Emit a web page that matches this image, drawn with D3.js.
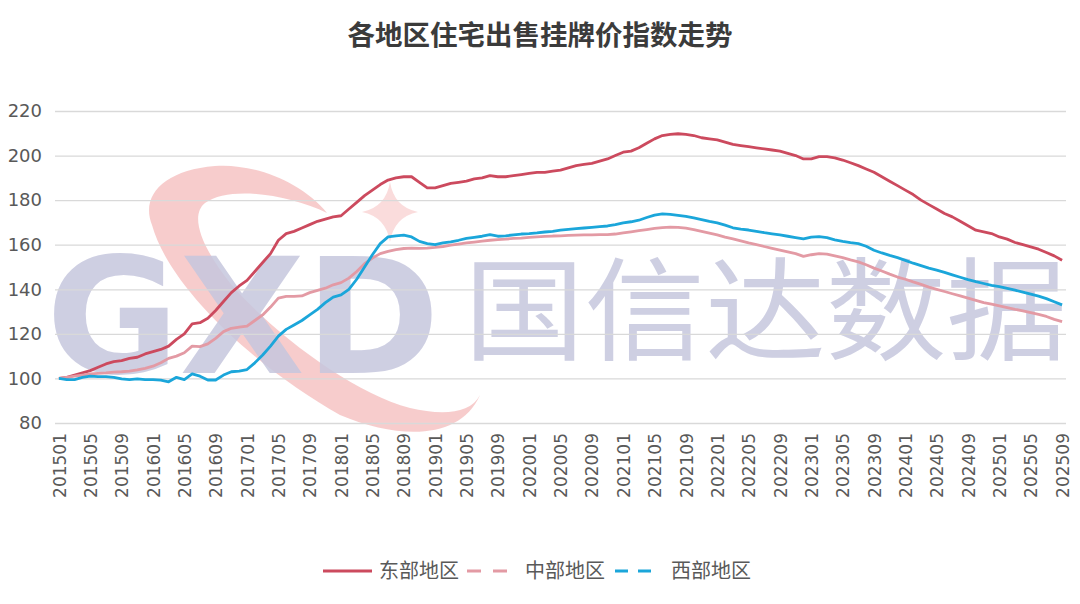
<!DOCTYPE html>
<html>
<head>
<meta charset="utf-8">
<script src="https://cdn.jsdelivr.net/npm/d3@7/dist/d3.min.js"></script>
<style>
  body { margin: 0; background: #fff; }
</style>
</head>
<body>
<script>
// months 201501 .. 202509
const months = [];
for (let y = 2015; y <= 2025; y++) {
    for (let m = 1; m <= 12; m++) {
        if (y === 2025 && m > 9) break;
        months.push(y + (m < 10 ? "0" + m : "" + m));
    }
}

const tickMonths = months.filter((d, i) => i % 4 === 0);
const yTicks = [80, 100, 120, 140, 160, 180, 200, 220];

const seriesNames = ["东部地区", "中部地区", "西部地区"];

const east = [
    100.0, 100.5, 101.5, 102.5, 103.5, 105.0, 106.5, 107.5, 108.0, 109.0, 109.5, 111.0,
    112.0, 113.0, 114.5, 117.5, 120.0, 124.5, 125.0, 127.0, 130.5, 134.5, 138.5, 141.5,
    144.0, 148.0, 152.0, 156.0, 162.0, 165.0, 166.0, 167.5, 169.0, 170.5, 171.5, 172.5,
    173.0, 176.0, 179.0, 182.0, 184.5, 187.0, 189.0, 190.0, 190.5, 190.5, 188.0, 185.5,
    185.5, 186.5, 187.5, 188.0, 188.5, 189.5, 190.0, 191.0, 190.5, 190.5, 191.0, 191.5,
    192.0, 192.5, 192.5, 193.0, 193.5, 194.5, 195.5, 196.0, 196.5, 197.5, 198.5, 200.0,
    201.5, 202.0, 203.5, 205.5, 207.5, 209.0, 209.5, 209.8, 209.5, 209.0, 208.0, 207.5,
    207.0, 206.0, 205.0, 204.5, 204.0, 203.5, 203.0, 202.5, 202.0, 201.0, 200.0, 198.5,
    198.5, 199.5, 199.5, 199.0, 198.0, 196.8, 195.5, 194.0, 192.5, 190.5, 188.5, 186.5,
    184.5, 182.5, 180.0, 178.0, 176.0, 174.0, 172.5, 170.5, 168.5, 166.5, 165.8, 165.0,
    163.5, 162.5, 161.0, 160.0, 159.0, 158.0, 156.5, 155.0, 153.0
];

const central = [
    100.0, 100.5, 101.0, 101.5, 102.0, 102.3, 102.5, 102.8, 103.0, 103.3, 103.8, 104.5,
    105.5, 107.0, 109.0, 110.0, 111.5, 114.5, 114.3, 115.5, 118.0, 121.0, 122.5, 123.0,
    123.5, 126.0, 128.5, 132.0, 136.0, 136.8, 136.8, 137.0, 138.5, 139.5, 140.5, 142.0,
    143.0, 145.0, 148.0, 151.5, 154.0, 156.0, 157.0, 157.8, 158.3, 158.5, 158.4, 158.5,
    158.8, 159.2, 159.8, 160.3, 160.8, 161.2, 161.6, 162.0, 162.3, 162.5, 162.8, 163.0,
    163.3, 163.5, 163.7, 163.9, 164.0, 164.2, 164.3, 164.4, 164.4, 164.5, 164.5, 164.8,
    165.3, 165.8, 166.3, 166.8, 167.3, 167.7, 167.9, 167.8, 167.4, 166.8, 166.0, 165.2,
    164.4, 163.4, 162.6, 161.7, 160.8, 160.0, 159.2, 158.4, 157.6, 156.8, 156.0, 154.8,
    155.5, 156.0, 155.8, 155.0, 154.2, 153.2, 152.3, 151.0, 149.5, 148.2, 146.8, 145.5,
    144.5, 143.3, 142.2, 141.0, 140.0, 139.0, 138.0, 137.0, 136.0, 135.0, 134.0, 133.3,
    132.6, 131.8, 131.0, 130.3, 129.5, 128.7, 127.8, 126.5, 125.5
];

const west = [
    100.0, 99.5, 99.5, 100.5, 101.0, 100.8, 100.8, 100.5, 99.8, 99.5, 99.8, 99.5,
    99.5, 99.2, 98.5, 100.5, 99.5, 102.0, 101.0, 99.3, 99.3, 101.5, 103.0, 103.3,
    104.0, 107.0, 110.5, 114.5, 119.0, 122.0, 124.0, 126.0, 128.5, 131.0, 134.0, 136.5,
    137.5, 140.0, 144.5, 150.0, 155.5, 160.5, 163.5, 164.0, 164.3, 163.5, 161.5, 160.5,
    160.0, 160.8, 161.3, 162.0, 162.8, 163.3, 163.8, 164.5, 163.8, 164.0, 164.4, 164.8,
    165.0, 165.3, 165.7, 166.0, 166.5, 166.9, 167.2, 167.5, 167.8, 168.1, 168.4, 169.0,
    169.8, 170.3, 171.0, 172.2, 173.3, 173.8, 173.6, 173.2, 172.7, 172.0, 171.3, 170.5,
    169.8, 168.8, 167.6, 167.0, 166.6, 166.0, 165.4, 164.9, 164.4, 163.8, 163.2, 162.6,
    163.4, 163.6, 163.2, 162.2, 161.5, 160.9, 160.5, 159.3, 157.5, 156.3, 155.2, 154.2,
    153.0, 151.7, 150.6, 149.5, 148.6, 147.6, 146.5, 145.4, 144.3, 143.4, 142.6, 141.8,
    141.2, 140.4, 139.6, 138.7, 137.8, 136.9, 135.8, 134.4, 133.0
];

const width = 1080;
const height = 604;
const margin = {left: 55, right: 14, top: 111, bottom: 181};
const innerW = width - margin.left - margin.right;
const innerH = height - margin.top - margin.bottom;

const colors = ["#cc4a5e", "#e39aa4", "#1ba6da"];
const numFont = "'DejaVu Sans', sans-serif";
const cjkFont = "'Noto Sans CJK SC', 'Noto Sans', sans-serif";

const svg = d3.select("body")
    .append("svg")
        .attr("width", width)
        .attr("height", height);

svg.append("text")
    .attr("x", width / 2)
    .attr("y", 45)
    .attr("text-anchor", "middle")
    .attr("font-family", cjkFont)
    .attr("font-size", "27.5px")
    .attr("font-weight", "bold")
    .style("fill", "#3b3b3b")
    .text("各地区住宅出售挂牌价指数走势");

// watermark (page coordinates), drawn under the plot
const wm = svg.append("g")
    .attr("class", "watermark");

// red swoosh (crescent) and small star of the logo
wm.append("path")
    .attr("d", "M327,213 C300,180 250,163 215,166 C165,170 140,195 152,225 " +
               "C170,290 260,370 340,415 C400,440 460,440 480,395 " +
               "C470,415 440,415 410,408 C350,392 270,330 230,283 " +
               "C200,245 190,215 205,203 C230,185 290,195 327,213 Z")
    .style("fill", "#f09a9a")
    .attr("opacity", 0.5);
wm.append("path")
    .attr("d", "M390,182 Q394,207 418,212 Q394,217 390,242 Q386,217 362,212 Q386,207 390,182 Z")
    .style("fill", "#f09a9a")
    .attr("opacity", 0.35);

const gxd = wm.append("text")
    .attr("font-family", "'DejaVu Sans', sans-serif")
    .attr("font-weight", "bold")
    .attr("font-size", "160px")
    .style("fill", "#c6c7de")
    .attr("opacity", 0.85)
    .text("GXD");
gxd.attr("transform", "translate(46,373) scale(" + (394 / gxd.node().getComputedTextLength()) + ",1)");

const cn = wm.append("text")
    .attr("font-family", cjkFont)
    .attr("font-size", "112px")
    .style("fill", "#c6c7de")
    .attr("opacity", 0.85)
    .text("国信达数据");
cn.attr("transform", "translate(464,352) scale(" + (603 / cn.node().getComputedTextLength()) + ",1)");

const g = svg.append("g")
    .attr("transform", "translate(" + margin.left + "," + margin.top + ")");

const x = d3.scalePoint()
    .domain(months)
    .range([0, innerW])
    .padding(0.5);

const y = d3.scaleLinear()
    .domain([80, 220])
    .range([innerH, 0]);

// grid + y labels
const leftAxis = d3.axisLeft(y)
    .tickValues(yTicks)
    .tickSize(-innerW)
    .tickPadding(13);

g.append("g")
    .attr("class", "left axis")
    .call(leftAxis)
    .call(a => a.select(".domain").remove())
    .call(a => a.selectAll("line").attr("stroke", "#d9d9d9").attr("stroke-width", 1.3))
    .call(a => a.selectAll("text")
        .attr("font-family", numFont)
        .attr("font-size", "18px")
        .style("fill", "#595959"));

// x labels
const bottomAxis = d3.axisBottom(x)
    .tickValues(tickMonths)
    .tickSize(0);

g.append("g")
    .attr("class", "bottom axis")
    .attr("transform", "translate(0," + innerH + ")")
    .call(bottomAxis)
    .call(a => a.select(".domain").remove())
    .selectAll("text")
        .attr("transform", "rotate(-90)")
        .attr("x", -10)
        .attr("y", 0)
        .attr("dy", "0.36em")
        .attr("text-anchor", "end")
        .attr("font-family", numFont)
        .attr("font-size", "17px")
        .style("fill", "#595959");

// lines
const allSeries = [east, central, west];
const line = d3.line()
    .x((d, i) => x(months[i]))
    .y(d => y(d));

g.selectAll(".series")
    .data(allSeries)
    .enter()
    .append("path")
        .attr("class", "series")
        .attr("d", d => line(d))
        .attr("fill", "none")
        .attr("stroke", (d, i) => colors[i])
        .attr("stroke-width", 2.8)
        .attr("stroke-linejoin", "round");

// legend
const legendItems = [
    {x1: 323, x2: 372, dash: null, tx: 379},
    {x1: 467, x2: 508, dash: "14,12", tx: 525},
    {x1: 615, x2: 652, dash: "13,10", tx: 671}
];

const legend = svg.append("g").attr("class", "legend");
legendItems.forEach((it, i) => {
    legend.append("line")
        .attr("x1", it.x1)
        .attr("x2", it.x2)
        .attr("y1", 571)
        .attr("y2", 571)
        .attr("stroke", colors[i])
        .attr("stroke-width", 3)
        .attr("stroke-dasharray", it.dash);
    legend.append("text")
        .attr("x", it.tx)
        .attr("y", 578)
        .attr("font-family", cjkFont)
        .attr("font-size", "20px")
        .style("fill", "#595959")
        .text(seriesNames[i]);
});
</script>
</body>
</html>
